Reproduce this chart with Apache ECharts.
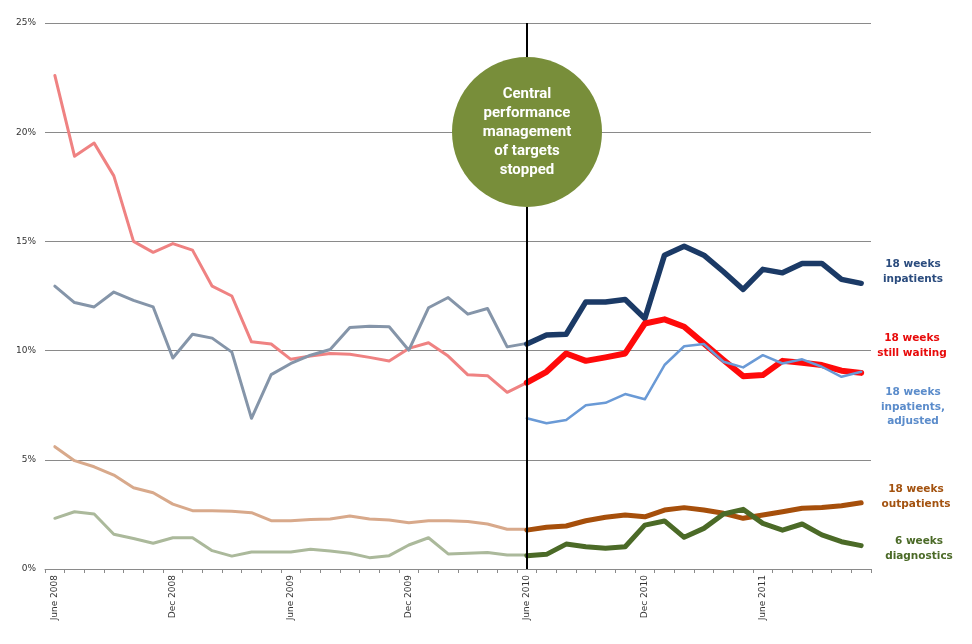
<!DOCTYPE html>
<html>
<head>
<meta charset="utf-8">
<script src="https://cdn.jsdelivr.net/npm/echarts@6/dist/echarts.min.js"></script>
<style>
html,body{margin:0;padding:0;background:#fff;}
#chart{width:972px;height:644px;}
</style>
</head>
<body>
<div id="chart"></div>
<script>
// Months June 2008 .. Nov 2011
const months = [
  'June 2008','Jul 2008','Aug 2008','Sep 2008','Oct 2008','Nov 2008',
  'Dec 2008','Jan 2009','Feb 2009','Mar 2009','Apr 2009','May 2009',
  'June 2009','Jul 2009','Aug 2009','Sep 2009','Oct 2009','Nov 2009',
  'Dec 2009','Jan 2010','Feb 2010','Mar 2010','Apr 2010','May 2010',
  'June 2010','Jul 2010','Aug 2010','Sep 2010','Oct 2010','Nov 2010',
  'Dec 2010','Jan 2011','Feb 2011','Mar 2011','Apr 2011','May 2011',
  'June 2011','Jul 2011','Aug 2011','Sep 2011','Oct 2011','Nov 2011'
];
const yTicks = [0, 5, 10, 15, 20, 25];

// Before June 2010 (June 2008 .. June 2010)
const stillWaitingBefore = [22.6,18.9,19.5,18.0,15.0,14.5,14.9,14.6,12.95,12.5,10.4,10.3,9.6,9.75,9.87,9.83,9.69,9.52,10.1,10.36,9.75,8.89,8.85,8.09,8.53];
const inpatientsBefore   = [12.95,12.2,12.0,12.68,12.3,12.0,9.66,10.75,10.57,9.93,6.9,8.9,9.41,9.79,10.05,11.06,11.12,11.09,10.02,11.96,12.43,11.67,11.93,10.17,10.33];
const outpatientsBefore  = [5.6,4.96,4.68,4.3,3.72,3.49,2.97,2.67,2.67,2.64,2.58,2.21,2.21,2.27,2.29,2.43,2.29,2.24,2.12,2.21,2.21,2.17,2.06,1.82,1.82];
const diagnosticsBefore  = [2.32,2.62,2.52,1.59,1.4,1.18,1.43,1.43,0.84,0.59,0.78,0.78,0.78,0.9,0.82,0.72,0.52,0.61,1.1,1.43,0.69,0.72,0.76,0.64,0.64];

// From June 2010 (June 2010 .. Nov 2011)
const inpatientsAfter   = [10.3,10.71,10.75,12.23,12.23,12.34,11.47,14.37,14.78,14.37,13.61,12.8,13.72,13.56,13.99,13.99,13.26,13.08];
const stillWaitingAfter = [8.53,9.03,9.87,9.53,9.69,9.87,11.24,11.43,11.09,10.33,9.57,8.83,8.88,9.53,9.44,9.34,9.08,8.98];
const adjustedAfter     = [6.9,6.67,6.82,7.5,7.61,8.01,7.77,9.34,10.2,10.3,9.49,9.23,9.79,9.41,9.6,9.26,8.8,9.03];
const outpatientsAfter  = [1.78,1.91,1.97,2.21,2.37,2.47,2.39,2.7,2.81,2.7,2.55,2.32,2.47,2.62,2.78,2.82,2.9,3.03];
const diagnosticsAfter  = [0.61,0.67,1.14,1.02,0.95,1.02,2.01,2.2,1.45,1.86,2.52,2.73,2.09,1.78,2.06,1.56,1.25,1.07];

const splitIndex = months.indexOf('June 2010');
const pad = arr => new Array(splitIndex).fill(null).concat(arr);

function line(name, data, color, width, extra) {
  return Object.assign({
    name, type: 'line', data, symbol: 'none', silent: true,
    lineStyle: { color, width, cap: 'round', join: 'round' },
    itemStyle: { color }, animation: false
  }, extra || {});
}

const chart = echarts.init(document.getElementById('chart'), null, { renderer: 'canvas' });
const grey = '#8a8a8a';

const series = [
  line('18 weeks still waiting (before)', stillWaitingBefore, '#ef8282', 3),
  line('18 weeks inpatients (before)', inpatientsBefore, '#8595a9', 3),
  line('18 weeks outpatients (before)', outpatientsBefore, '#d8a98b', 3),
  line('6 weeks diagnostics (before)', diagnosticsBefore, '#abb99b', 3, {
    markLine: {
      silent: true, symbol: 'none', animation: false,
      label: { show: false },
      lineStyle: { color: '#000', width: 2, type: 'solid' },
      data: [{ xAxis: 'June 2010' }]
    }
  }),
  line('18 weeks outpatients', pad(outpatientsAfter), '#a64f0b', 5),
  line('6 weeks diagnostics', pad(diagnosticsAfter), '#4b6a27', 5),
  line('18 weeks inpatients', pad(inpatientsAfter), '#1b3a66', 5.5),
  line('18 weeks still waiting', pad(stillWaitingAfter), '#ff0a0a', 6),
  line('18 weeks inpatients, adjusted', pad(adjustedAfter), '#6a9ad6', 2.5)
];

const labelFont = '"DejaVu Sans", Verdana, sans-serif';
function sideLabel(text, x, y, color) {
  return {
    type: 'text', x, y, z: 100, silent: true,
    style: {
      text, fill: color, font: 'bold 10.5px ' + labelFont,
      textAlign: 'center', textVerticalAlign: 'middle', lineHeight: 14.5
    }
  };
}

chart.setOption({
  animation: false,
  grid: { left: 45, right: 101, top: 23, bottom: 75, containLabel: false },
  xAxis: {
    type: 'category', data: months, boundaryGap: true,
    axisLine: { lineStyle: { color: grey, width: 1 } },
    axisTick: { show: true, interval: 0, alignWithLabel: false, length: 4, lineStyle: { color: grey } },
    axisLabel: {
      interval: 5, rotate: 90, margin: 6,
      fontSize: 9, color: '#333', fontFamily: labelFont
    },
    splitLine: { show: false }
  },
  yAxis: {
    type: 'value', min: yTicks[0], max: yTicks[yTicks.length - 1], interval: 5,
    axisLine: { show: false }, axisTick: { show: false },
    axisLabel: { formatter: '{value}%', fontSize: 9, color: '#333', margin: 9, fontFamily: labelFont },
    splitLine: { lineStyle: { color: grey, width: 1 } }
  },
  series,
  graphic: [
    {
      type: 'circle', z: 100, silent: true,
      shape: { cx: 527, cy: 132, r: 75 },
      style: { fill: '#788e3a' }
    },
    {
      type: 'text', x: 527, y: 132, z: 101, silent: true,
      style: {
        text: 'Central\nperformance\nmanagement\nof targets\nstopped',
        fill: '#ffffff', font: 'bold 15px Roboto, "Open Sans", sans-serif',
        textAlign: 'center', textVerticalAlign: 'middle', lineHeight: 19
      }
    },
    sideLabel('18 weeks\ninpatients', 913, 272, '#2b4c7e'),
    sideLabel('18 weeks\nstill waiting', 912, 346, '#e80a0a'),
    sideLabel('18 weeks\ninpatients,\nadjusted', 913, 407, '#5b8ccb'),
    sideLabel('18 weeks\noutpatients', 916, 497, '#a3520f'),
    sideLabel('6 weeks\ndiagnostics', 919, 549, '#4b6a27')
  ]
});
</script>
</body>
</html>
